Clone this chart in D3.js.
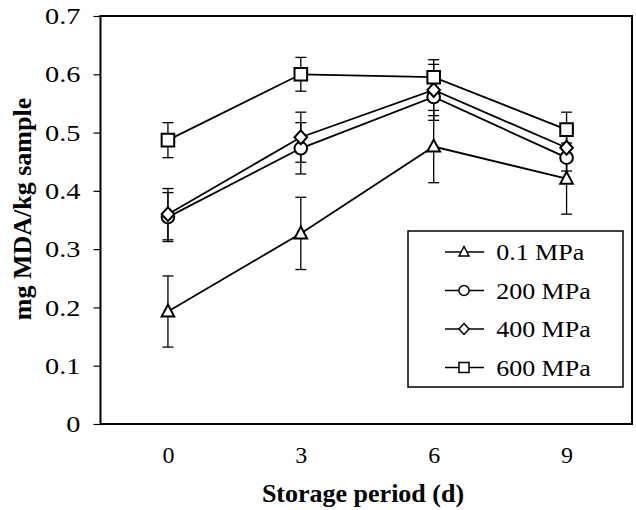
<!DOCTYPE html>
<meta charset="utf-8">
<style>
body { margin: 0; background: #fff; }
svg { display: block; }
svg text { font-family: "Liberation Serif", Tinos, "Times New Roman", Times, serif; }
.axis path, .axis line { stroke: #000; }
</style>
<svg width="636" height="510"></svg>
<script src="https://d3js.org/d3.v7.min.js"></script>
<script>

// storage days
var days = ["0", "3", "6", "9"];
var yTicks = [0, 0.1, 0.2, 0.3, 0.4, 0.5, 0.6, 0.7];

// mean values (mg MDA/kg sample)
var mpa01 = [0.193, 0.327, 0.476, 0.421];
var mpa200 = [0.355, 0.473, 0.561, 0.457];
var mpa400 = [0.360, 0.492, 0.573, 0.474];
var mpa600 = [0.487, 0.600, 0.595, 0.505];

// error bar half widths
var err01 = [0.061, 0.062, 0.062, 0.061];
var err200 = [0.042, 0.044, 0.040, 0.040];
var err400 = [0.044, 0.043, 0.044, 0.040];
var err600 = [0.030, 0.029, 0.030, 0.030];

var seriesNames = ["0.1 MPa", "200 MPa", "400 MPa", "600 MPa"];
var seriesShapes = ["triangle", "circle", "diamond", "square"];

var svg = d3.select("svg");

var plot = {left: 100.5, right: 632, top: 16, bottom: 424};

var x = d3.scalePoint().domain(days).range([plot.left + 1, plot.right + 1]).padding(0.5);
var y = d3.scaleLinear().domain([0, 0.7]).range([plot.bottom, plot.top]);

// marker shapes
function shapePath(type, r) {
  if (type == "triangle") return "M0," + (-r * 1.1) + "L" + r + "," + (r * 0.8) + "L" + (-r) + "," + (r * 0.8) + "Z";
  if (type == "square") return "M" + (-r) + "," + (-r) + "h" + (2 * r) + "v" + (2 * r) + "h" + (-2 * r) + "Z";
  if (type == "diamond") return "M0," + (-r * 1.1) + "L" + r + ",0L0," + (r * 1.1) + "L" + (-r) + ",0Z";
  return d3.symbol().type(d3.symbolCircle).size(Math.PI * r * r)();
}

// plot frame
svg.append("rect")
  .attr("x", plot.left).attr("y", plot.top)
  .attr("width", plot.right - plot.left).attr("height", plot.bottom - plot.top)
  .attr("fill", "none").attr("stroke", "#000").attr("stroke-width", 2);

// y axis (labels a bit stretched like the original)
var yAxis = svg.append("g")
  .attr("class", "axis")
  .attr("transform", "translate(" + plot.left + ",0)")
  .call(d3.axisLeft(y).tickValues(yTicks).tickSize(7).tickPadding(13)
    .tickFormat(function(d) { return d == 0 ? "0" : d3.format(".1f")(d); }));
yAxis.select(".domain").remove();
yAxis.selectAll("line").attr("stroke-width", 1.2);
yAxis.selectAll("text")
  .attr("font-size", 24).attr("fill", "#000")
  .attr("x", -20 / 1.18)
  .attr("transform", "scale(1.18,1)");

// x axis labels only
var xAxis = svg.append("g")
  .attr("class", "axis")
  .attr("transform", "translate(0," + plot.bottom + ")")
  .call(d3.axisBottom(x).tickSize(0).tickPadding(22));
xAxis.select(".domain").remove();
xAxis.selectAll("text").attr("font-size", 24).attr("fill", "#000");

// axis titles
svg.append("text")
  .attr("x", 363).attr("y", 502)
  .attr("text-anchor", "middle")
  .attr("font-size", 26).attr("font-weight", "bold")
  .text("Storage period (d)");

svg.append("text")
  .attr("transform", "translate(31,209) rotate(-90)")
  .attr("text-anchor", "middle")
  .attr("font-size", 26).attr("font-weight", "bold")
  .text("mg MDA/kg sample");

var allMeans = [mpa01, mpa200, mpa400, mpa600];
var allErr = [err01, err200, err400, err600];

var series = allMeans.map(function(vals, s) {
  return {
    name: seriesNames[s],
    shape: seriesShapes[s],
    points: vals.map(function(v, i) { return {day: days[i], value: v, err: allErr[s][i]}; })
  };
});

var line = d3.line()
  .x(function(d) { return x(d.day); })
  .y(function(d) { return y(d.value); });

// error bars
series.forEach(function(s) {
  var g = svg.append("g").attr("stroke", "#000").attr("stroke-width", 1.3);
  s.points.forEach(function(p) {
    var cx = x(p.day);
    g.append("line").attr("x1", cx).attr("x2", cx)
      .attr("y1", y(p.value - p.err)).attr("y2", y(p.value + p.err));
    [p.value - p.err, p.value + p.err].forEach(function(v) {
      g.append("line").attr("x1", cx - 5.5).attr("x2", cx + 5.5)
        .attr("y1", y(v)).attr("y2", y(v));
    });
  });
});

// lines and markers
series.forEach(function(s) {
  svg.append("path")
    .datum(s.points)
    .attr("d", line)
    .attr("fill", "none")
    .attr("stroke", "#000")
    .attr("stroke-width", 1.8);

  svg.selectAll(null)
    .data(s.points)
    .enter().append("path")
    .attr("transform", function(d) { return "translate(" + x(d.day) + "," + y(d.value) + ")"; })
    .attr("d", shapePath(s.shape, 6.3))
    .attr("fill", "#fff")
    .attr("stroke", "#000")
    .attr("stroke-width", 2);
});

// legend
var legend = svg.append("g");
legend.append("rect")
  .attr("x", 408).attr("y", 231).attr("width", 215).attr("height", 156)
  .attr("fill", "#fff").attr("stroke", "#000").attr("stroke-width", 1.5);

var rows = legend.selectAll("g.row")
  .data(series)
  .enter().append("g")
  .attr("class", "row")
  .attr("transform", function(d, i) { return "translate(0," + (252 + i * 38.5) + ")"; });

rows.append("line")
  .attr("x1", 445).attr("x2", 484)
  .attr("stroke", "#000").attr("stroke-width", 1.5);
rows.append("path")
  .attr("transform", "translate(464,0)")
  .attr("d", function(d) { return shapePath(d.shape, 5); })
  .attr("fill", "#fff").attr("stroke", "#000").attr("stroke-width", 1.5);
rows.append("text")
  .attr("x", 496).attr("y", 8)
  .attr("font-size", 24)
  .attr("transform", "translate(-41,0) scale(1.083,1)")
  .text(function(d) { return d.name; });

</script>
